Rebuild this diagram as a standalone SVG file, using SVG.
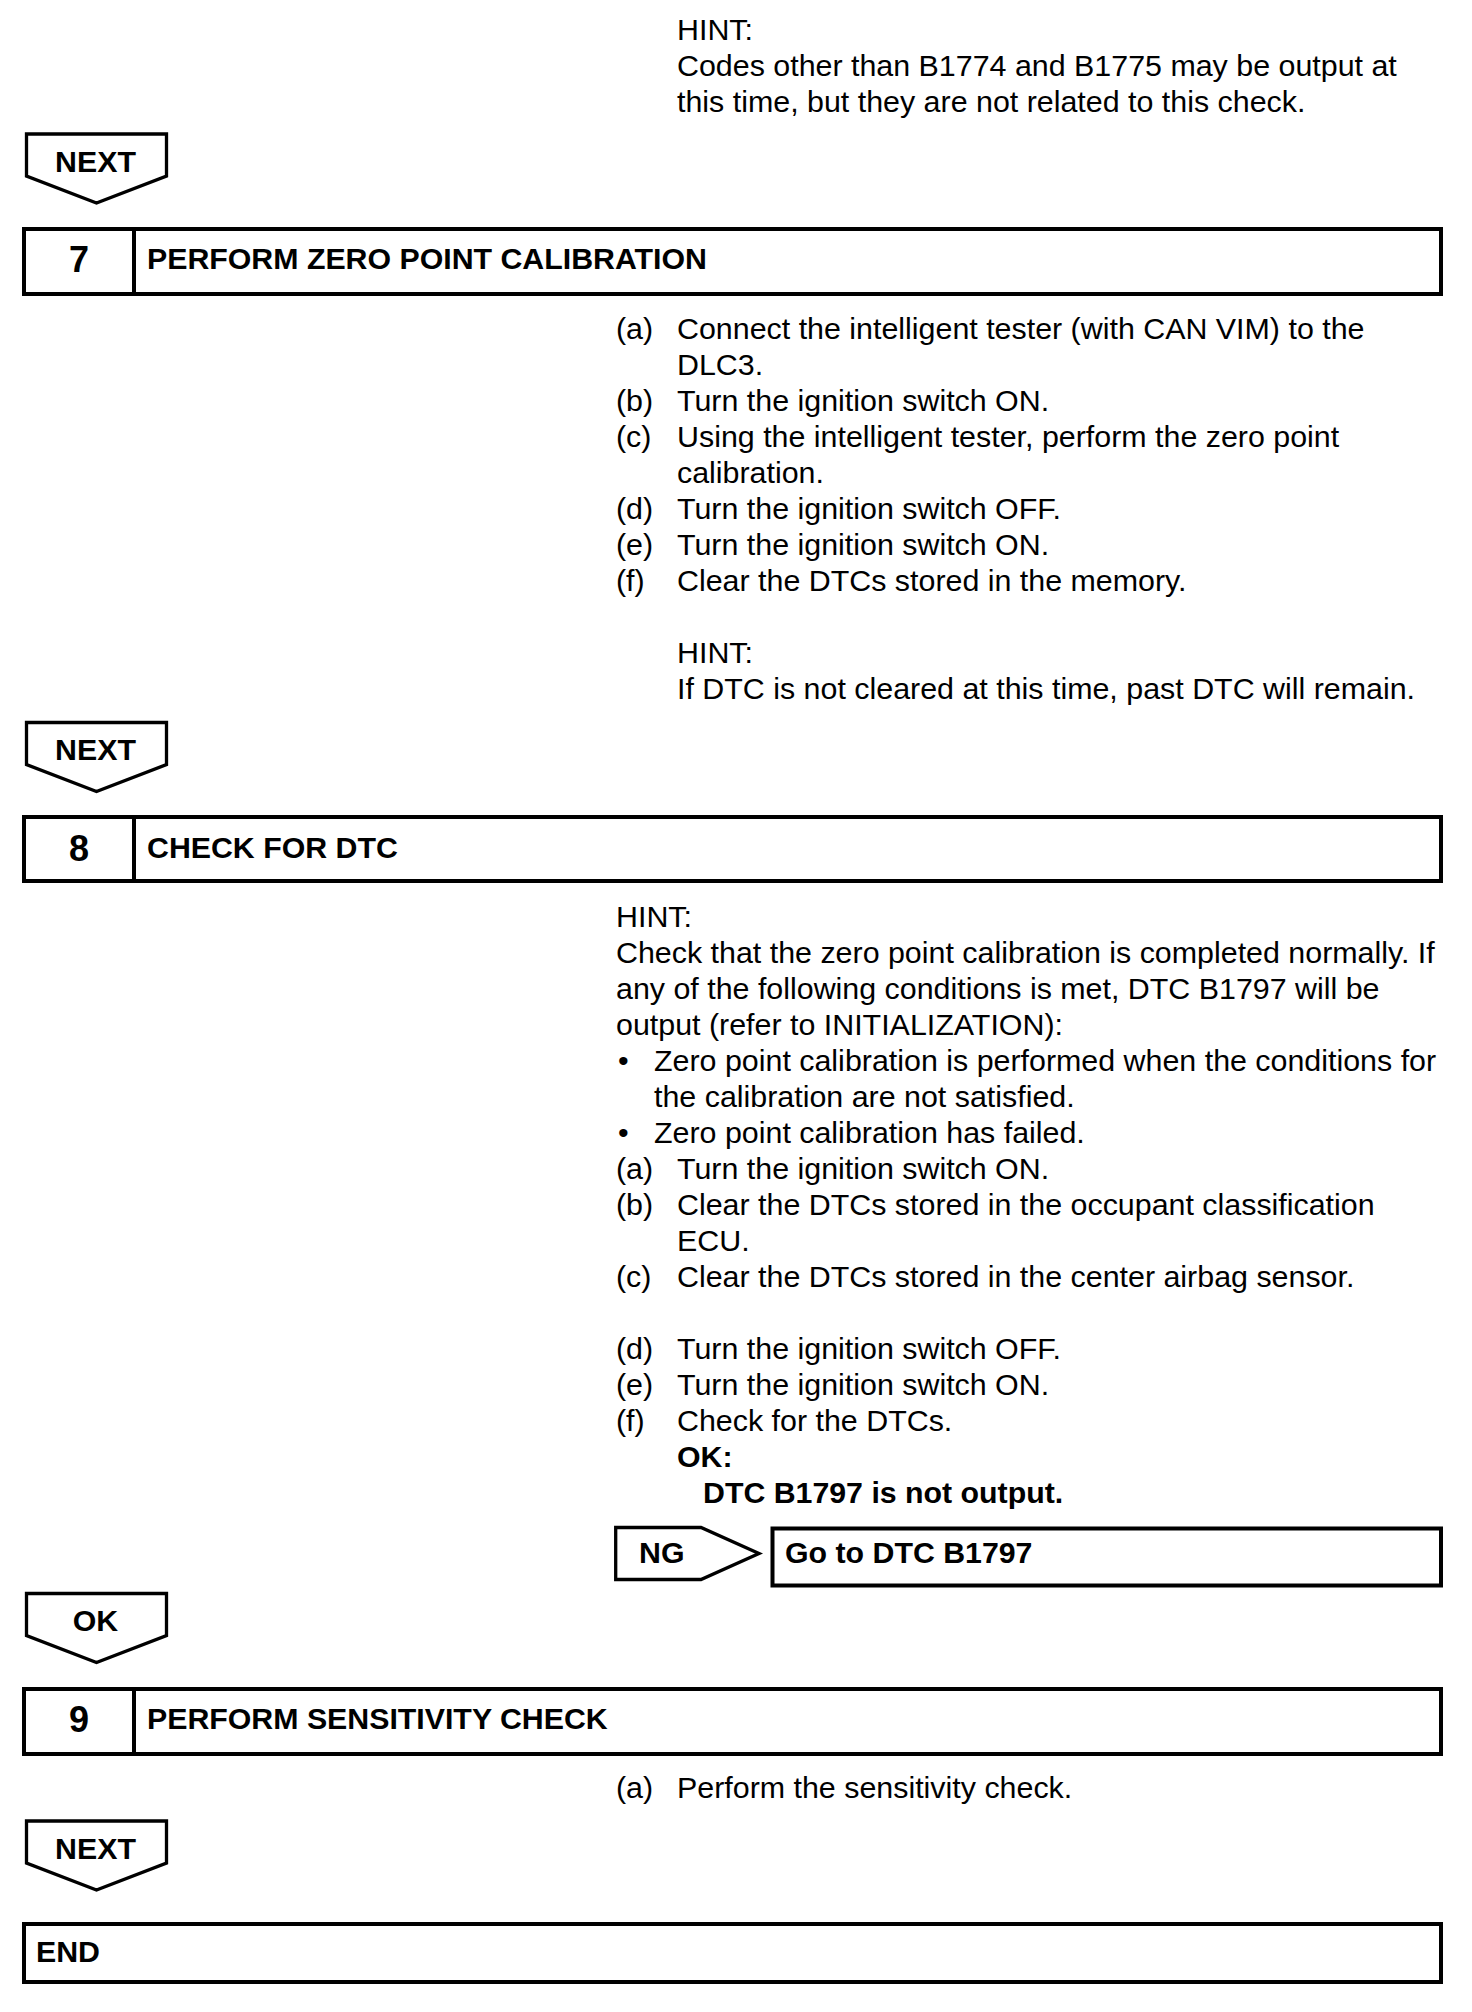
<svg xmlns="http://www.w3.org/2000/svg" width="1472" height="2012" viewBox="0 0 1472 2012">
<style>
text{font-family:"Liberation Sans",Arial,Helvetica,sans-serif;fill:#000}
.t{font-size:30.4px}
.b{font-size:30.3px;font-weight:bold}
.n{font-size:36px;font-weight:bold;text-anchor:middle}
.c{text-anchor:middle}
.box{fill:#fff;stroke:#000;stroke-width:4}
.arr{fill:#fff;stroke:#000;stroke-width:3.3;stroke-linejoin:miter}
</style>
<rect width="1472" height="2012" fill="#fff"/>

<g id="hint-top">
<text class="t" x="677" y="40">HINT:</text>
<text class="t" x="677" y="76">Codes other than B1774 and B1775 may be output at</text>
<text class="t" x="677" y="112">this time, but they are not related to this check.</text>
</g>

<g id="step7">
<rect class="box" x="24" y="229" width="1417" height="65"/>
<line x1="134" y1="229" x2="134" y2="294" stroke="#000" stroke-width="4"/>
<text class="n" x="79" y="272">7</text>
<text class="b" x="147" y="269">PERFORM ZERO POINT CALIBRATION</text>
</g>

<g id="step7-body">
<text class="t" x="616" y="339">(a)</text><text class="t" x="677" y="339">Connect the intelligent tester (with CAN VIM) to the</text>
<text class="t" x="677" y="375">DLC3.</text>
<text class="t" x="616" y="411">(b)</text><text class="t" x="677" y="411">Turn the ignition switch ON.</text>
<text class="t" x="616" y="447">(c)</text><text class="t" x="677" y="447">Using the intelligent tester, perform the zero point</text>
<text class="t" x="677" y="483">calibration.</text>
<text class="t" x="616" y="519">(d)</text><text class="t" x="677" y="519">Turn the ignition switch OFF.</text>
<text class="t" x="616" y="555">(e)</text><text class="t" x="677" y="555">Turn the ignition switch ON.</text>
<text class="t" x="616" y="591">(f)</text><text class="t" x="677" y="591">Clear the DTCs stored in the memory.</text>
<text class="t" x="677" y="663">HINT:</text>
<text class="t" x="677" y="699">If DTC is not cleared at this time, past DTC will remain.</text>
</g>

<g id="step8">
<rect class="box" x="24" y="817" width="1417" height="64"/>
<line x1="134" y1="817" x2="134" y2="881" stroke="#000" stroke-width="4"/>
<text class="n" x="79" y="861">8</text>
<text class="b" x="147" y="858">CHECK FOR DTC</text>
</g>

<g id="step8-body">
<text class="t" x="616" y="927">HINT:</text>
<text class="t" x="616" y="963">Check that the zero point calibration is completed normally. If</text>
<text class="t" x="616" y="999">any of the following conditions is met, DTC B1797 will be</text>
<text class="t" x="616" y="1035">output (refer to INITIALIZATION):</text>
<text class="t" x="618" y="1071">•</text><text class="t" x="654" y="1071">Zero point calibration is performed when the conditions for</text>
<text class="t" x="654" y="1107">the calibration are not satisfied.</text>
<text class="t" x="618" y="1143">•</text><text class="t" x="654" y="1143">Zero point calibration has failed.</text>
<text class="t" x="616" y="1179">(a)</text><text class="t" x="677" y="1179">Turn the ignition switch ON.</text>
<text class="t" x="616" y="1215">(b)</text><text class="t" x="677" y="1215">Clear the DTCs stored in the occupant classification</text>
<text class="t" x="677" y="1251">ECU.</text>
<text class="t" x="616" y="1287">(c)</text><text class="t" x="677" y="1287">Clear the DTCs stored in the center airbag sensor.</text>
<text class="t" x="616" y="1359">(d)</text><text class="t" x="677" y="1359">Turn the ignition switch OFF.</text>
<text class="t" x="616" y="1395">(e)</text><text class="t" x="677" y="1395">Turn the ignition switch ON.</text>
<text class="t" x="616" y="1431">(f)</text><text class="t" x="677" y="1431">Check for the DTCs.</text>
<text class="b" x="677" y="1467">OK:</text>
<text class="b" x="703" y="1503">DTC B1797 is not output.</text>
</g>

<g id="ng-result">
<rect class="box" x="772.5" y="1528.5" width="668.5" height="57"/>
<text class="b" x="785" y="1563">Go to DTC B1797</text>
</g>

<g id="step9">
<rect class="box" x="24" y="1689" width="1417" height="65"/>
<line x1="134" y1="1689" x2="134" y2="1754" stroke="#000" stroke-width="4"/>
<text class="n" x="79" y="1732">9</text>
<text class="b" x="147" y="1729">PERFORM SENSITIVITY CHECK</text>
</g>

<g id="step9-body">
<text class="t" x="616" y="1798">(a)</text><text class="t" x="677" y="1798">Perform the sensitivity check.</text>
</g>

<g id="end">
<rect class="box" x="24" y="1924" width="1417" height="58"/>
<text class="b" x="36" y="1962">END</text>
</g>

<g id="connectors">
<g id="next1">
<path class="arr" d="M26.5,134 V176 L96.5,203 L166.5,176 V134 Z"/>
<text class="b c" x="95.5" y="172">NEXT</text>
</g>
<g id="next2">
<path class="arr" d="M26.5,722.5 V764.5 L96.5,791.5 L166.5,764.5 V722.5 Z"/>
<text class="b c" x="95.5" y="760">NEXT</text>
</g>
<g id="ng">
<path class="arr" d="M615.7,1527.5 H701 L759,1553.5 L701,1579.5 H615.7 Z"/>
<text class="b" x="639" y="1563">NG</text>
</g>
<g id="ok">
<path class="arr" d="M26.5,1593.5 V1635.5 L96.5,1662.5 L166.5,1635.5 V1593.5 Z"/>
<text class="b c" x="95.5" y="1631">OK</text>
</g>
<g id="next3">
<path class="arr" d="M26.5,1821 V1863 L96.5,1890 L166.5,1863 V1821 Z"/>
<text class="b c" x="95.5" y="1859">NEXT</text>
</g>
</g>
</svg>
